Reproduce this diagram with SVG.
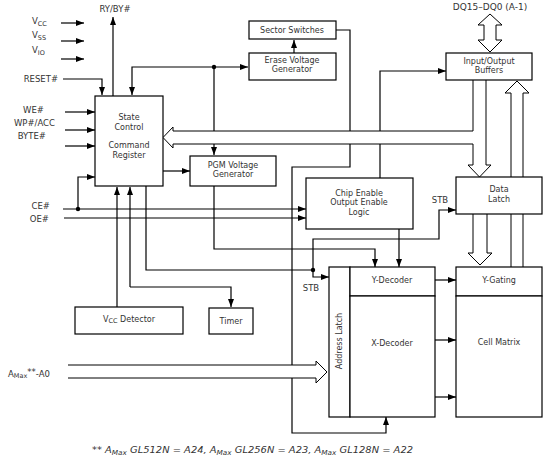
<svg xmlns="http://www.w3.org/2000/svg" width="553" height="461" viewBox="0 0 553 461">
<style>
.b{fill:#fff;stroke:#000;stroke-width:1.2}
.l{fill:none;stroke:#000;stroke-width:1.2}
.h{fill:#fff;stroke:#000;stroke-width:1}
.t{font-family:"DejaVu Sans",Verdana,sans-serif;font-size:8px;fill:#333;text-anchor:middle}
.s{font-family:"DejaVu Sans",Verdana,sans-serif;font-size:8.5px;fill:#333;text-anchor:end}
</style>
<defs>
<marker id="a" markerUnits="userSpaceOnUse" markerWidth="8" markerHeight="6" refX="8" refY="3" orient="auto"><path d="M0,0 L8,3 L0,6 z" fill="#000"/></marker>
</defs>
<rect width="553" height="461" fill="#fff"/>
<g id="connectors">
<path class="l" d="M61,23 H84" marker-end="url(#a)"/>
<path class="l" d="M61,41 H84" marker-end="url(#a)"/>
<path class="l" d="M61,59 H84" marker-end="url(#a)"/>
<path class="l" d="M63,79 H102 V95" marker-end="url(#a)"/>
<path class="l" d="M113,96 V17" marker-end="url(#a)"/>
<path class="l" d="M65,112 H95" marker-end="url(#a)"/>
<path class="l" d="M65,130 H95" marker-end="url(#a)"/>
<path class="l" d="M65,146 H95" marker-end="url(#a)"/>
<path class="l" d="M214,131 V67 H132 V95" marker-end="url(#a)"/>
<path class="l" d="M214,67 H248" marker-end="url(#a)"/>
<circle cx="214" cy="67" r="2.2" fill="#000"/>
<path class="l" d="M214,144 V155" marker-end="url(#a)"/>
<path class="l" d="M294,53 V40" marker-end="url(#a)"/>
<path class="l" d="M336,30 H350 V131"/>
<path class="l" d="M350,144 V167 H292 V433 H386 V417" marker-end="url(#a)"/>
<path class="l" d="M380,131 V71 H446" marker-end="url(#a)"/>
<path class="l" d="M380,144 V178"/>
<path class="l" d="M163,171 H190" marker-end="url(#a)"/>
<path class="l" d="M214,186 V249 H375 V267" marker-end="url(#a)"/>
<path class="l" d="M63,209 H306" marker-end="url(#a)"/>
<path class="l" d="M64,218 H306" marker-end="url(#a)"/>
<circle cx="78" cy="209" r="2.2" fill="#000"/>
<path class="l" d="M78,209 V177 H95" marker-end="url(#a)"/>
<path class="l" d="M146,186 V270 H313"/>
<circle cx="313" cy="270" r="2.2" fill="#000"/>
<path class="l" d="M313,270 V239 H439 V210 H456" marker-end="url(#a)"/>
<path class="l" d="M313,270 V277 H329" marker-end="url(#a)"/>
<path class="l" d="M399,229 V267" marker-end="url(#a)"/>
<path class="l" d="M117,307 V187" marker-end="url(#a)"/>
<path class="l" d="M130,287 V187" marker-end="url(#a)"/>
<path class="l" d="M130,287 H231 V307" marker-end="url(#a)"/>
<path class="l" d="M435,280 H456" marker-end="url(#a)"/>
<path class="l" d="M435,340 H456" marker-end="url(#a)"/>
<path class="l" d="M435,397 H456" marker-end="url(#a)"/>
<path class="h" d="M473,80 V131 H173 V127 L163,137.5 L173,148 V144 H473 V165 H468 L479.5,177 L491,165 H486 V80"/>
<path class="h" d="M473,214 V253 H468 L480,265 L492,253 H487 V214"/>
<path class="h" d="M511,267 V93 H505 L517,81 L529,93 H523 V267"/>
<path class="h" d="M484,25 H478 L490,14 L502,25 H496 V40 H502 L490,52 L478,40 H484 Z"/>
<path class="h" d="M68,365 H316 V361 L327,372 L316,383 V378 H68"/>
</g>
<g id="labels">
<text class="t" x="115" y="12" style="font-size:8.5px">RY/BY#</text>
<text class="t" x="490" y="10" style="font-size:9px">DQ15–DQ0 (A-1)</text>
<text class="t" x="32" y="24" style="text-anchor:start;font-size:8.5px">V<tspan font-size="6.5" dy="2">CC</tspan></text>
<text class="t" x="32" y="38" style="text-anchor:start;font-size:8.5px">V<tspan font-size="6.5" dy="2">SS</tspan></text>
<text class="t" x="32" y="53" style="text-anchor:start;font-size:8.5px">V<tspan font-size="6.5" dy="2">IO</tspan></text>
<text class="s" x="58" y="82">RESET#</text>
<text class="s" x="44" y="113">WE#</text>
<text class="s" x="55" y="126">WP#/ACC</text>
<text class="s" x="46" y="139">BYTE#</text>
<text class="s" x="50" y="209">CE#</text>
<text class="s" x="49" y="222">OE#</text>
<text class="t" x="8" y="377" style="text-anchor:start;font-size:8.5px">A<tspan font-size="6.5" dy="1">Max</tspan><tspan dy="-3">**</tspan><tspan dy="2">-A0</tspan></text>
<text class="t" x="440" y="203" style="font-size:8.5px">STB</text>
<text class="t" x="311" y="291" style="font-size:8.5px">STB</text>
<text class="t" x="92" y="453" textLength="321" lengthAdjust="spacingAndGlyphs" style="text-anchor:start;font-size:9.5px;font-style:italic">** A<tspan font-size="7" dy="2">Max</tspan><tspan dy="-2"> GL512N = A24, A</tspan><tspan font-size="7" dy="2">Max</tspan><tspan dy="-2"> GL256N = A23, A</tspan><tspan font-size="7" dy="2">Max</tspan><tspan dy="-2"> GL128N = A22</tspan></text>
</g>
<g id="state">
<rect class="b" x="95" y="96" width="68" height="90"/>
<text class="t" x="129" y="120">State</text>
<text class="t" x="129" y="130">Control</text>
<text class="t" x="129" y="148">Command</text>
<text class="t" x="129" y="158">Register</text>
</g>
<g id="sector">
<rect class="b" x="249" y="21" width="87" height="18"/>
<text class="t" x="292" y="33">Sector Switches</text>
</g>
<g id="erase">
<rect class="b" x="249" y="53" width="87" height="27"/>
<text class="t" x="292" y="63">Erase Voltage</text>
<text class="t" x="292" y="72">Generator</text>
</g>
<g id="pgm">
<rect class="b" x="190" y="156" width="86" height="30"/>
<text class="t" x="233" y="168">PGM Voltage</text>
<text class="t" x="233" y="177">Generator</text>
</g>
<g id="io">
<rect class="b" x="446" y="53" width="86" height="27"/>
<text class="t" x="489" y="64">Input/Output</text>
<text class="t" x="489" y="73">Buffers</text>
</g>
<g id="celogic">
<rect class="b" x="306" y="178" width="107" height="51"/>
<text class="t" x="359" y="196">Chip Enable</text>
<text class="t" x="359" y="205">Output Enable</text>
<text class="t" x="359" y="215">Logic</text>
</g>
<g id="datalatch">
<rect class="b" x="456" y="177" width="86" height="37"/>
<text class="t" x="499" y="192">Data</text>
<text class="t" x="499" y="202">Latch</text>
</g>
<g id="vccdet">
<rect class="b" x="75" y="307" width="108" height="27"/>
<text class="t" x="129" y="322">V<tspan font-size="6.5" dy="1">CC</tspan><tspan dy="-1"> Detector</tspan></text>
</g>
<g id="timer">
<rect class="b" x="209" y="308" width="44" height="26"/>
<text class="t" x="231" y="324">Timer</text>
</g>
<g id="addrlatch">
<rect class="b" x="329" y="267" width="21" height="150"/>
<text class="t" transform="translate(342,341) rotate(-90)">Address Latch</text>
</g>
<g id="ydec">
<rect class="b" x="350" y="267" width="85" height="29"/>
<text class="t" x="392" y="283">Y-Decoder</text>
</g>
<g id="xdec">
<rect class="b" x="350" y="296" width="85" height="121"/>
<text class="t" x="392" y="346">X-Decoder</text>
</g>
<g id="ygating">
<rect class="b" x="456" y="267" width="86" height="29"/>
<text class="t" x="499" y="283">Y-Gating</text>
</g>
<g id="cellmatrix">
<rect class="b" x="456" y="296" width="86" height="121"/>
<text class="t" x="499" y="345">Cell Matrix</text>
</g>
</svg>
